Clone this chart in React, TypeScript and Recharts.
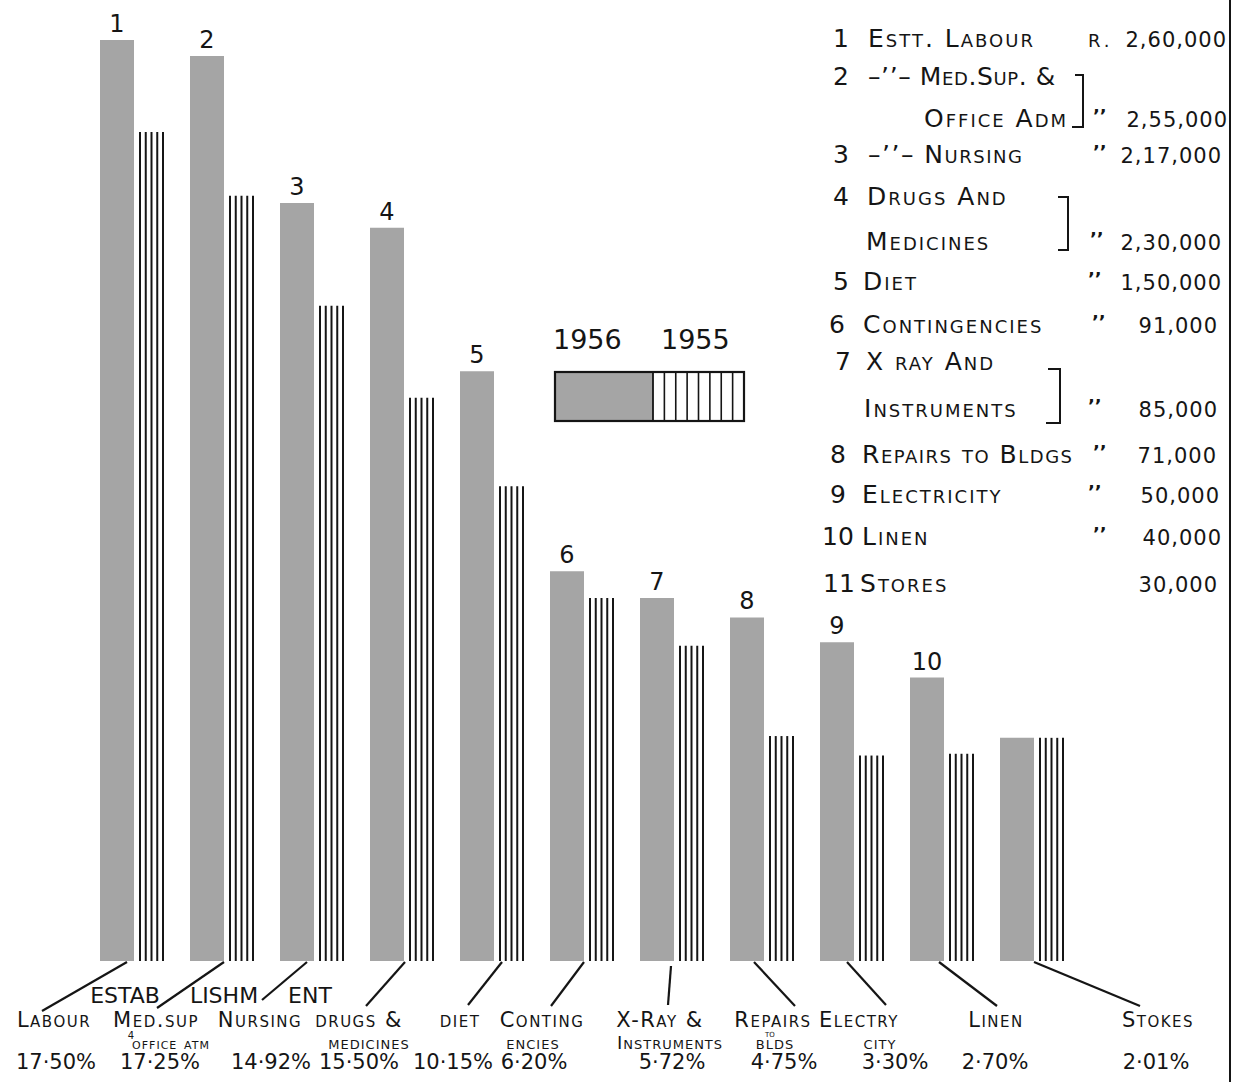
import React from 'react';
import { BarChart, Bar, XAxis, YAxis, LabelList, Legend } from 'recharts';

const FONT = '"DejaVu Sans", "Liberation Sans", sans-serif';
const INK = '#151515';
const GRAY = '#a5a5a5';

// ---------- data ----------
const categories = [
  'Estt. Labour', 'Med. Sup. & Office Adm', 'Nursing', 'Drugs and Medicines', 'Diet',
  'Contingencies', 'X-Ray and Instruments', 'Repairs to Bldgs', 'Electricity', 'Linen', 'Stores',
];
const barNumbers = ['1', '2', '3', '4', '5', '6', '7', '8', '9', '10', ''];
// bar heights as drawn (scale: bar 1 of 1956 = 260)
const values1956 = [260, 255.5, 214, 207, 166.5, 110, 102.5, 97, 90, 80, 63];
const values1955 = [234, 216, 185, 159, 134, 102.5, 89, 63.5, 58, 58.5, 63];
const percentLabels = ['17·50%', '17·25%', '14·92%', '15·50%', '10·15%', '6·20%', '5·72%', '4·75%', '3·30%', '2·70%', '2·01%'];
const axisTopWord = ['ESTAB', 'LISHM', 'ENT', '', '', '', '', '', '', '', ''];
const axisLine1 = ['Labour', 'Med.sup', 'Nursing', 'drugs &', 'diet', 'Conting', 'X-Ray &', 'Repairs', 'Electry', 'Linen', 'Stokes'];
const axisLine2 = ['', 'office atm', '', 'medicines', '', 'encies', 'Instruments', 'blds', 'city', '', ''];
const axisTiny = ['', '4', '', '', '', '', '', 'to', '', '', ''];
const legendYears = ['1956', '1955'];
const tableNumbers = ['1', '2', '3', '4', '5', '6', '7', '8', '9', '10', '11'];
const tableLine1 = ['Estt. Labour', '–’’– Med.Sup. &', '–’’– Nursing', 'Drugs And', 'Diet', 'Contingencies', 'X ray And', 'Repairs to Bldgs', 'Electricity', 'Linen', 'Stores'];
const tableLine2 = ['', 'Office Adm', '', 'Medicines', '', '', 'Instruments', '', '', '', ''];
const tableAmounts = ['2,60,000', '2,55,000', '2,17,000', '2,30,000', '1,50,000', '91,000', '85,000', '71,000', '50,000', '40,000', '30,000'];

const data = categories.map((c, i) => ({
  cat: c,
  num: barNumbers[i],
  v1956: values1956[i],
  v1955: values1955[i],
}));

// ---------- layout (positions only) ----------
const TICK = {
  startDx: [-5, 2, -5, 3, 10, 2, -1, -8, -5, -3, 2],
  startY: [962, 962, 962, 962, 962, 962, 966, 962, 962, 962, 962],
  endDx: [-90, -65, -50, -36, -24, -31, -4, 33, 34, 55, 108],
  endY: [1011, 1008, 1000, 1006, 1005, 1006, 1005, 1006, 1005, 1006, 1006],
  wordDx: [-7, 2, -2, 0, 0, 0, 0, 0, 0, 0, 0],
  l1Dx: [-78, -66, -52, -43, -32, -40, -12, 11, 7, 54, 126],
  l2Dx: [0, -51, 0, -33, 0, -49, -2, 13, 28, 0, 0],
  tinyDx: [0, -91, 0, 0, 0, 0, 0, 8, 0, 0, 0],
  tinyY: [0, 1039, 0, 0, 0, 0, 0, 1037, 0, 0, 0],
  pctDx: [-76, -62, -41, -43, -39, -48, 0, 22, 43, 53, 124],
  rowSize: [0, 11, 0, 13, 0, 13, 0, 13, 13, 0, 0],
};

const TABLE = {
  numX: [833, 833, 833, 833, 833, 829, 835, 830, 830, 822, 823],
  nameX: [868, 868, 868, 867, 863, 863, 866, 862, 862, 862, 860],
  nameLs: [2, 0.6, 1.5, 2, 2, 2, 2, 1.5, 2, 2, 2],
  y1: [47, 85, 163, 205, 290, 333, 370, 463, 503, 545, 592],
  name2X: [0, 924, 0, 866, 0, 0, 864, 0, 0, 0, 0],
  y2: [0, 127, 0, 250, 0, 0, 417, 0, 0, 0, 0],
  dittoX: [0, 1093, 1093, 1090, 1088, 1092, 1088, 1093, 1088, 1093, 0],
  amtRight: [1227, 1228, 1222, 1222, 1222, 1218, 1218, 1217, 1220, 1222, 1218],
};

// ---------- helpers ----------
type SCProps = {
  x: number; y: number; text: string; big: number; small: number;
  anchor?: 'start' | 'middle' | 'end'; ls?: number;
};
const SC = ({ x, y, text, big, small, anchor = 'start', ls = 0 }: SCProps) => {
  const runs: { s: boolean; t: string }[] = [];
  for (const ch of text) {
    const s = ch >= 'a' && ch <= 'z';
    const last = runs[runs.length - 1];
    if (last && last.s === s) last.t += ch;
    else runs.push({ s, t: ch });
  }
  return (
    <text x={x} y={y} textAnchor={anchor} letterSpacing={ls} fontFamily={FONT} fill={INK}
      style={{ whiteSpace: 'pre' }}>
      {runs.map((r, i) => (
        <tspan key={i} fontSize={r.s ? small : big}>{r.s ? r.t.toUpperCase() : r.t}</tspan>
      ))}
    </text>
  );
};

const StripeShape = (props: any) => {
  const { x, y, width, height } = props;
  if (!height || height <= 0) return null;
  const n = Math.max(2, Math.round(width / 6) + 1);
  const lines = [];
  for (let k = 0; k < n; k++) {
    const lx = x + 1 + (k * (width - 2)) / (n - 1);
    lines.push(<line key={k} x1={lx} x2={lx} y1={y} y2={y + height} stroke={INK} strokeWidth={2} />);
  }
  return <g>{lines}</g>;
};

const BottomTick = (props: any) => {
  const { x, payload } = props;
  const i = payload && payload.index != null ? payload.index : props.index;
  if (i == null) return null;
  return (
    <g>
      <line x1={x + TICK.startDx[i]} y1={TICK.startY[i]} x2={x + TICK.endDx[i]} y2={TICK.endY[i]}
        stroke={INK} strokeWidth={2.2} />
      {axisTopWord[i] ? (
        <text x={x + TICK.wordDx[i]} y={1003} textAnchor="middle" fontFamily={FONT} fontSize={22} fill={INK}>
          {axisTopWord[i]}
        </text>
      ) : null}
      <SC x={x + TICK.l1Dx[i]} y={1027} text={axisLine1[i]} big={21} small={15} anchor="middle" ls={1.5} />
      {axisLine2[i] ? (
        <SC x={x + TICK.l2Dx[i]} y={1049} text={axisLine2[i]} big={18} small={TICK.rowSize[i] || 13} anchor="middle" ls={1} />
      ) : null}
      {axisTiny[i] ? (
        <SC x={x + TICK.tinyDx[i]} y={TICK.tinyY[i]} text={axisTiny[i]} big={10} small={7} anchor="middle" />
      ) : null}
      <text x={x + TICK.pctDx[i]} y={1069} textAnchor="middle" fontFamily={FONT} fontSize={21} fill={INK}>
        {percentLabels[i]}
      </text>
    </g>
  );
};

const LegendKey = () => {
  // wrapper placed at page (540, 318)
  const ox = 540, oy = 318;
  const stripes = [];
  for (let k = 1; k < 8; k++) {
    const lx = 653 + (k * (744 - 653)) / 8 - ox;
    stripes.push(<line key={k} x1={lx} x2={lx} y1={372 - oy} y2={421 - oy} stroke={INK} strokeWidth={1.6} />);
  }
  return (
    <svg width={220} height={110} style={{ display: 'block' }}>
      <text x={553 - ox} y={349 - oy} fontFamily={FONT} fontSize={27} fill={INK}>{legendYears[0]}</text>
      <text x={661 - ox} y={349 - oy} fontFamily={FONT} fontSize={27} fill={INK}>{legendYears[1]}</text>
      <rect x={555 - ox} y={372 - oy} width={653 - 555} height={49} fill={GRAY} />
      {stripes}
      <line x1={653 - ox} x2={653 - ox} y1={372 - oy} y2={421 - oy} stroke={INK} strokeWidth={1.8} />
      <rect x={555 - ox} y={372 - oy} width={744 - 555} height={49} fill="none" stroke={INK} strokeWidth={2.2} />
    </svg>
  );
};

const Table = () => (
  <svg width={1240} height={1082} style={{ position: 'absolute', left: 0, top: 0, pointerEvents: 'none' }}>
    <line x1={1230} x2={1230} y1={0} y2={1082} stroke={INK} strokeWidth={2} />
    {tableNumbers.map((n, i) => (
      <g key={i}>
        <text x={TABLE.numX[i]} y={TABLE.y1[i]} fontFamily={FONT} fontSize={25} fill={INK}>{n}</text>
        <SC x={TABLE.nameX[i]} y={TABLE.y1[i]} text={tableLine1[i]} big={25} small={18} ls={TABLE.nameLs[i]} />
        {tableLine2[i] ? (
          <SC x={TABLE.name2X[i]} y={TABLE.y2[i]} text={tableLine2[i]} big={25} small={18} ls={2} />
        ) : null}
        {TABLE.dittoX[i] ? (
          <text x={TABLE.dittoX[i]} y={(tableLine2[i] ? TABLE.y2[i] : TABLE.y1[i]) - 5} fontFamily={FONT}
            fontSize={18} fontWeight="bold" fill={INK}>’’</text>
        ) : null}
        <text x={TABLE.amtRight[i]} y={tableLine2[i] ? TABLE.y2[i] : TABLE.y1[i]} textAnchor="end"
          fontFamily={FONT} fontSize={21} letterSpacing={1} fill={INK}>{tableAmounts[i]}</text>
      </g>
    ))}
    <text x={1088} y={47} fontFamily={FONT} fontSize={18} letterSpacing={4} fill={INK}>R.</text>
    <path d="M1075,75 L1083,75 L1083,127 L1072,127" fill="none" stroke={INK} strokeWidth={2} />
    <path d="M1058,197 L1068,197 L1068,250 L1058,250" fill="none" stroke={INK} strokeWidth={2} />
    <path d="M1048,369 L1060,369 L1060,423 L1046,423" fill="none" stroke={INK} strokeWidth={2} />
  </svg>
);

export default function App() {
  return (
    <div style={{ position: 'absolute', left: 0, top: 0, width: 1240, height: 1082, background: '#fff' }}>
      <BarChart width={1240} height={1082} data={data}
        margin={{ top: 40, right: 163, bottom: 0, left: 87 }} barGap={5} barCategoryGap={0}>
        <XAxis dataKey="cat" height={121} axisLine={false} tickLine={false} interval={0}
          tick={<BottomTick />} />
        <YAxis hide domain={[0, 260]} />
        <Bar dataKey="v1956" barSize={34} fill={GRAY} isAnimationActive={false}>
          <LabelList dataKey="num" position="top" offset={8} fill={INK} fontSize={24} fontFamily={FONT} />
        </Bar>
        <Bar dataKey="v1955" barSize={25} shape={<StripeShape />} isAnimationActive={false} />
        <Legend layout="horizontal" verticalAlign="middle" align="center"
          wrapperStyle={{ position: 'absolute', left: 540, top: 318, width: 220, height: 110 }}
          content={() => <LegendKey />} />
      </BarChart>
      <Table />
    </div>
  );
}
